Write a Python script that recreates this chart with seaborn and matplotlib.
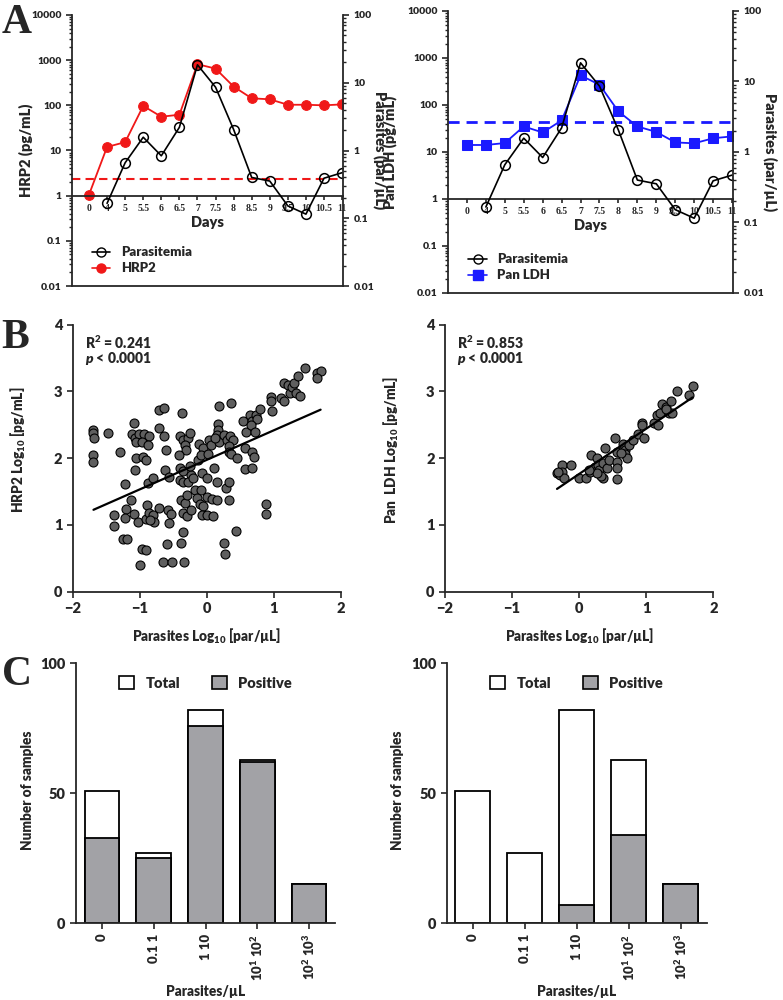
import numpy as np
import pandas as pd
import matplotlib
matplotlib.use("Agg")
import matplotlib.pyplot as plt
import matplotlib.ticker as mticker
from matplotlib.lines import Line2D
from matplotlib.patches import Patch
import seaborn as sns

# ---------------- data ----------------
# panel A : time course
days = ["0", "4", "5", "5.5", "6", "6.5", "7", "7.5", "8", "8.5", "9", "9.5", "10", "10.5", "11"]
hrp2 = [1.05, 12, 15.3, 97, 56, 62, 815, 650, 260, 143, 136, 103, 103, 100, 105]
pan_ldh = [14.1, 14.1, 15.5, 35, 26, 47, 427, 270, 73, 35, 26.7, 16, 15.3, 19.6, 21.5]
parasitemia = [np.nan, 0.166, 0.66, 1.57, 0.835, 2.2, 18.4, 8.6, 2.04, 0.40, 0.354, 0.152, 0.115, 0.39, 0.47]
hrp2_cutoff = 2.3
ldh_cutoff = 43

# panel B : log10 parasites vs log10 antigen
hrp2_par = [-1.69, -1.69, -1.68, -1.69, -1.69, -1.47, -1.30, -1.22, -1.13, -1.39,
            -1.39, -1.21, -1.22, -1.25, -1.19, -1.08, -1.02, -1.08, -1.12, -1.07,
            -1.01, -0.94, -0.86, -1.06, -0.96, -0.88, -1.06, -0.95, -0.90, -1.07,
            -0.87, -0.80, -0.71, -0.71, -0.64, -0.63, -0.61, -0.62, -0.57, -0.89,
            -0.90, -0.86, -0.80, -0.78, -0.84, -0.71, -0.58, -0.54, -0.57, -0.97,
            -0.91, -0.99, -0.60, -0.65, -0.52, -0.34, -0.39, -0.35, -0.37, -0.40,
            -0.35, -0.28, -0.25, -0.33, -0.31, -0.42, -0.40, -0.35, -0.23, -0.25,
            -0.13, -0.40, -0.35, -0.28, -0.21, -0.12, -0.05, -0.08, 0.03, 0.07,
            0.02, -0.38, -0.33, -0.30, -0.35, -0.29, -0.23, -0.17, -0.08, -0.14,
            -0.10, -0.05, -0.07, 0.00, 0.09, 0.01, 0.08, 0.15, -0.07, 0.00,
            0.11, 0.16, 0.18, 0.17, 0.17, 0.16, 0.19, 0.13, 0.26, 0.31,
            0.35, 0.39, 0.34, 0.34, 0.37, 0.45, 0.29, 0.34, 0.34, 0.26,
            0.28, 0.44, 0.37, 0.54, 0.59, 0.65, 0.67, 0.73, 0.75, 0.80,
            0.66, 0.57, 0.67, 0.70, 0.57, 0.67, 0.72, 0.88, 0.89, 0.96,
            0.96, 0.98, 1.11, 1.16, 1.16, 1.21, 1.24, 1.28, 1.31, 1.34,
            1.39, 1.36, 1.46, 1.65, 1.70, 1.65]
hrp2_log = [2.42, 2.38, 2.31, 2.05, 1.95, 2.38, 2.09, 1.61, 1.37, 1.15,
            0.98, 1.24, 1.11, 0.79, 0.79, 1.17, 1.05, 2.52, 2.36, 2.31,
            2.36, 2.36, 2.33, 2.25, 2.25, 2.20, 2.01, 2.02, 1.97, 1.82,
            1.63, 1.70, 2.45, 2.72, 2.75, 2.33, 2.13, 1.83, 1.72, 1.30,
            1.09, 1.18, 1.15, 1.05, 1.07, 1.25, 1.23, 1.17, 1.03, 0.64,
            0.62, 0.40, 0.71, 0.44, 0.45, 0.45, 0.73, 0.89, 2.68, 2.34,
            2.28, 2.31, 2.38, 2.20, 2.13, 2.05, 1.85, 1.81, 1.75, 1.88,
            1.97, 1.68, 1.65, 1.65, 1.70, 2.22, 2.15, 2.05, 2.28, 2.20,
            2.07, 1.38, 1.33, 1.45, 1.18, 1.13, 1.23, 1.52, 1.53, 1.40,
            1.32, 1.28, 1.15, 1.15, 1.14, 1.42, 1.39, 1.37, 1.78, 1.70,
            1.86, 1.64, 2.78, 2.51, 2.42, 2.35, 2.25, 2.30, 2.35, 2.27,
            2.33, 2.28, 2.18, 2.10, 2.06, 2.01, 1.55, 1.65, 1.37, 0.73,
            0.57, 0.91, 2.82, 2.56, 2.39, 2.65, 2.56, 2.65, 2.59, 2.74,
            2.50, 2.15, 2.10, 2.02, 1.84, 1.86, 2.40, 1.31, 1.16, 2.92,
            2.85, 2.70, 2.90, 2.85, 3.12, 3.10, 2.97, 3.07, 3.12, 2.98,
            2.93, 3.23, 3.35, 3.28, 3.31, 3.20]

ldh_par = [-0.33, -0.29, -0.25, -0.25, -0.22, -0.12, -0.31, 0.00, 0.10, 0.16,
           0.18, 0.23, 0.27, 0.28, 0.30, 0.35, 0.35, 0.38, 0.41, 0.44,
           0.32, 0.26, 0.14, 0.54, 0.57, 0.56, 0.57, 0.57, 0.66, 0.68,
           0.68, 0.75, 0.72, 0.62, 0.80, 0.88, 0.94, 0.94, 0.97, 1.12,
           1.16, 1.17, 1.20, 1.23, 1.29, 1.34, 1.37, 1.39, 1.30, 1.46,
           1.64, 1.69]
ldh_log = [1.78, 1.75, 1.90, 1.80, 1.70, 1.90, 1.80, 1.71, 1.71, 1.80,
           2.05, 1.87, 2.01, 1.90, 1.82, 1.93, 1.71, 2.15, 1.85, 1.98,
           1.73, 1.78, 1.82, 2.31, 2.10, 1.95, 1.86, 1.69, 2.22, 2.12,
           2.06, 2.20, 2.01, 2.08, 2.28, 2.36, 2.53, 2.49, 2.31, 2.53,
           2.65, 2.50, 2.67, 2.81, 2.77, 2.67, 2.85, 2.67, 2.73, 3.00,
           2.94, 3.08]

# panel C : sample counts
par_bins = ["0", "0.1 1", "1 10", "$10^1$ $10^2$", "$10^2$ $10^3$"]
total_n = [51, 27, 82, 63, 15]
hrp2_pos = [33, 25, 76, 62, 15]
ldh_pos = [0, 0, 7, 34, 15]

# ---------------- style ----------------
sns.set_theme(style="ticks")
plt.rcParams["font.family"] = ["Lato", "DejaVu Sans"]
plt.rcParams["font.weight"] = "heavy"
plt.rcParams["axes.labelweight"] = "heavy"
plt.rcParams["mathtext.fontset"] = "custom"
plt.rcParams["mathtext.rm"] = "Lato:heavy"
plt.rcParams["mathtext.it"] = "Lato:heavy:italic"
plt.rcParams["mathtext.default"] = "regular"
plt.rcParams["axes.linewidth"] = 1.3
plt.rcParams["xtick.major.width"] = 1.2
plt.rcParams["ytick.major.width"] = 1.2

RED = "#f01818"
BLUE = "#1a1aff"
DOT = "#5f5f5f"
BARGRAY = "#a2a2a6"

fig = plt.figure(figsize=(7.83, 10), dpi=100)


def frac(l, t, r, b):
    return [l / 783, 1 - b / 1000, (r - l) / 783, (b - t) / 1000]


# ---------------- panel A ----------------
def time_panel(rect, antigen, color, marker, label, ylabel, cutoff, xlo, lw_cut):
    ax = fig.add_axes(rect)
    pos = np.arange(len(days))
    d_ag = pd.DataFrame({"pos": pos, "val": antigen})
    d_par = pd.DataFrame({"pos": pos, "val": parasitemia}).dropna()

    ax.set_yscale("log")
    sns.lineplot(data=d_ag, x="pos", y="val", ax=ax, color=color, marker=marker,
                 markersize=7 if marker == "o" else 6.5, markeredgecolor=color,
                 lw=1.3, estimator=None)
    ax.axhline(cutoff, color=color, ls=(0, (4, 2.5)), lw=lw_cut)
    ax.set_ylim(0.01, 10000)
    ax.set_xlim(xlo, 14.05)
    ax.set_yticks([0.01, 0.1, 1, 10, 100, 1000, 10000])
    ax.yaxis.set_major_formatter(mticker.FuncFormatter(lambda v, p: f"{v:g}"))
    ax.tick_params(axis="y", labelsize=7.5, length=4, direction="out")
    ax.tick_params(axis="y", which="minor", length=2)
    ax.spines["bottom"].set_position(("data", 1))
    ax.spines["top"].set_visible(False)
    ax.spines["right"].set_visible(False)
    ax.set_xticks(pos)
    ax.set_xticklabels(days, fontsize=7, family="Liberation Serif")
    ax.tick_params(axis="x", length=3, pad=3)
    ax.set_xlabel("Days", fontsize=10.5, labelpad=2)
    ax.set_ylabel(ylabel, fontsize=10.5)

    ax2 = ax.twinx()
    ax2.set_yscale("log")
    sns.lineplot(data=d_par, x="pos", y="val", ax=ax2, color="black", marker="o",
                 markersize=7, markerfacecolor="none", markeredgecolor="black",
                 markeredgewidth=1.1, lw=1.2, estimator=None)
    ax2.set_ylim(0.01, 100)
    ax2.set_yticks([0.01, 0.1, 1, 10, 100])
    ax2.yaxis.set_major_formatter(mticker.FuncFormatter(lambda v, p: f"{v:g}"))
    ax2.tick_params(axis="y", labelsize=7.5, length=4, direction="out")
    ax2.tick_params(axis="y", which="minor", length=2)
    ax2.spines["top"].set_visible(False)
    ax2.spines["left"].set_visible(False)
    ax2.set_ylabel("Parasites (par/µL)", fontsize=10.5, rotation=270, labelpad=12)

    handles = [
        Line2D([], [], color="black", marker="o", markerfacecolor="none", markersize=6.5, lw=1.2),
        Line2D([], [], color=color, marker=marker, markersize=6.5, lw=1.2),
    ]
    ax2.legend(handles, ["Parasitemia", label], loc="lower left", bbox_to_anchor=(0.03, 0.0),
               frameon=False, fontsize=9.5, handlelength=1.4, labelspacing=0.3)
    return ax, ax2


axA1, axA1b = time_panel(frac(72, 15, 343, 286), hrp2, RED, "o", "HRP2", "HRP2 (pg/mL)",
                         hrp2_cutoff, -0.94, 1.5)
axA1.yaxis.set_label_coords(-0.145, 0.5)
axA1b.yaxis.set_label_coords(1.165, 0.5)

axA2, axA2b = time_panel(frac(448, 11, 733, 293), pan_ldh, BLUE, "s", "Pan LDH", "Pan LDH (pg/mL)",
                         ldh_cutoff, -1.0, 2.0)
axA2.yaxis.set_label_coords(-0.18, 0.5)
axA2b.yaxis.set_label_coords(1.155, 0.5)


# ---------------- panel B ----------------
def scatter_panel(rect, xs, ys, ylabel, r2):
    ax = fig.add_axes(rect)
    sns.scatterplot(x=xs, y=ys, ax=ax, color=DOT, edgecolor="black", linewidth=0.8, s=42, zorder=3)
    sns.regplot(x=np.array(xs), y=np.array(ys), ax=ax, scatter=False, ci=None, truncate=True,
                color="black", line_kws=dict(lw=1.6, zorder=4))
    ax.set_xlim(-2, 2)
    ax.set_ylim(0, 4)
    ax.set_xticks([-2, -1, 0, 1, 2])
    ax.set_yticks([0, 1, 2, 3, 4])
    ax.tick_params(labelsize=10.5, length=4)
    sns.despine(ax=ax)
    ax.set_xlabel("Parasites Log$_{10}$ [par/µL]", fontsize=9.8)
    ax.set_ylabel(ylabel, fontsize=9.8)
    ax.xaxis.set_label_coords(0.5, -0.13)
    ax.yaxis.set_label_coords(-0.165, 0.53)
    ax.text(0.046, 0.935, f"R$^2$ = {r2}", transform=ax.transAxes, fontsize=10, va="center")
    ax.text(0.046, 0.872, r"$\mathit{p}$ < 0.0001", transform=ax.transAxes, fontsize=10, va="center")
    return ax


scatter_panel(frac(72.7, 324.7, 340.7, 591.7), hrp2_par, hrp2_log, "HRP2 Log$_{10}$ [pg/mL]", "0.241")
scatter_panel(frac(445, 324.7, 713.3, 591.7), ldh_par, ldh_log, "Pan  LDH Log$_{10}$ [pg/mL]", "0.853")


# ---------------- panel C ----------------
def bar_panel(rect, positive):
    ax = fig.add_axes(rect)
    sns.barplot(x=par_bins, y=total_n, ax=ax, color="white", saturation=1, width=0.67,
                edgecolor="black", linewidth=1.3)
    sns.barplot(x=par_bins, y=positive, ax=ax, color=BARGRAY, saturation=1, width=0.67,
                edgecolor="black", linewidth=1.3)
    ax.set_xlim(-0.5, 4.5)
    ax.set_ylim(0, 100)
    ax.set_yticks([0, 50, 100])
    ax.tick_params(axis="y", labelsize=10.5, length=4)
    ax.tick_params(axis="x", labelsize=9.5, length=4, rotation=90)
    sns.despine(ax=ax)
    ax.set_xlabel("Parasites/µL", fontsize=9.8)
    ax.set_ylabel("Number of samples", fontsize=9.8)
    ax.xaxis.set_label_coords(0.5, -0.238)
    ax.yaxis.set_label_coords(-0.163, 0.51)
    handles = [Patch(facecolor="white", edgecolor="black", lw=1.2),
               Patch(facecolor=BARGRAY, edgecolor="black", lw=1.2)]
    ax.legend(handles, ["Total", "Positive"], ncol=2, loc="upper center",
              bbox_to_anchor=(0.5, 1.0), frameon=False, fontsize=10.5,
              handlelength=1.0, handleheight=1.0, columnspacing=2.2)
    return ax


bar_panel(frac(76, 663.3, 335, 923.3), hrp2_pos)
bar_panel(frac(446.7, 663.3, 706.7, 923.3), ldh_pos)

# panel letters
for letter, ybase in [("A", 0.967), ("B", 0.652), ("C", 0.315)]:
    fig.text(0.002, ybase, letter, family="Liberation Serif", fontweight="bold",
             fontsize=30, va="baseline", ha="left")

fig.savefig("out.png", dpi=100)
